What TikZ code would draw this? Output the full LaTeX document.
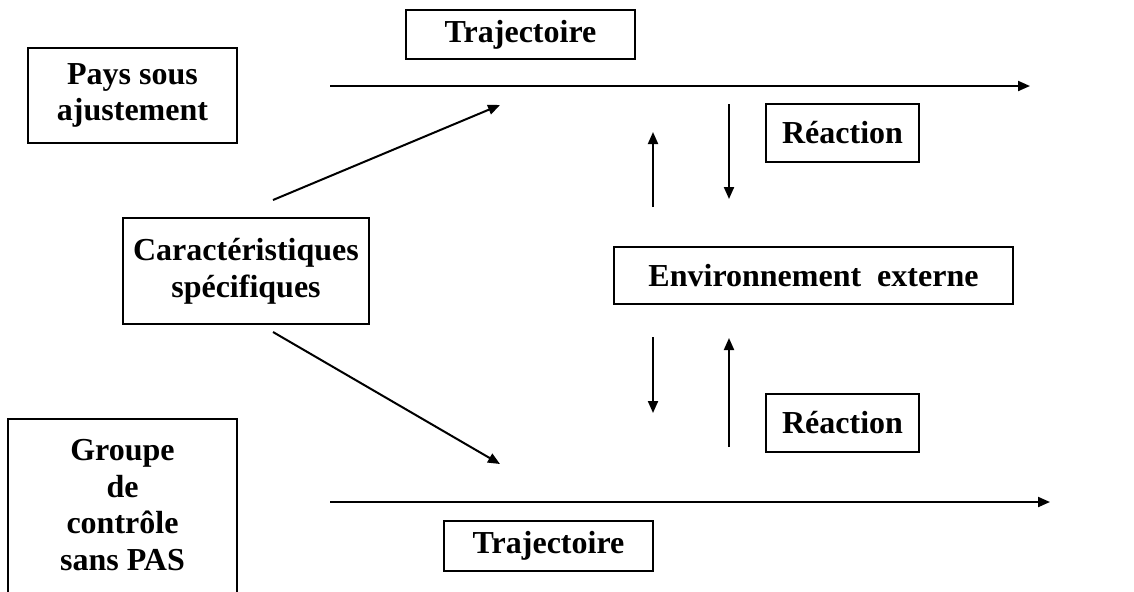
\documentclass[tikz,border=0pt]{standalone}
\usepackage{fontspec}
\setmainfont{Liberation Serif}
\usepackage{tikz}
\usetikzlibrary{positioning,arrows.meta}

\begin{document}
\begin{tikzpicture}[x=0.5pt, y=-0.5pt, line width=1pt, >={Triangle[length=6pt,width=5pt]}]
  \tikzset{
    box/.style={draw, rectangle, align=center, inner sep=0pt, text centered,
      font=\fontsize{16}{18.3}\selectfont\bfseries},
    flow/.style={->}
  }
  \clip (0,0) rectangle (1134,591);

  \node[box, minimum width=114.5pt, minimum height=24.5pt] (traj) at (520.5,34.5) {Trajectoire};
  \node[box, minimum width=104.5pt, minimum height=47.5pt] (pays) at (132.5,95.5) {Pays sous\\ajustement};
  \node[box, minimum width=76.5pt, minimum height=29pt] (reacup) at (842.5,133) {Réaction};
  \node[box, minimum width=123pt, minimum height=53pt] (carac) at (246,271) {Caractéristiques\\spécifiques};
  \node[box, minimum width=199.5pt, minimum height=28.5pt] (env) at (813.5,275.5) {Environnement\ \ externe};
  \node[box, minimum width=76.5pt, minimum height=29pt] (reacdown) at (842.5,423) {Réaction};
  \node[box, minimum width=104.5pt, minimum height=25pt] (trajbis) at (548.5,546) {Trajectoire};
  \node[box, anchor=north, minimum width=114.5pt, inner ysep=8pt] (groupe) at (122.5,418)
    {\begin{tabular}{c}Groupe\\de\\contrôle\\sans PAS\\[40pt]\end{tabular}};

  \coordinate (traja) at (330,86);
  \coordinate (trajb) at (1030,86);
  \coordinate (diaga) at (273,200);
  \coordinate (diagb) at (500,105);
  \coordinate (diagc) at (273,332);
  \coordinate (diagd) at (500,464);
  \coordinate (trajc) at (330,502);
  \coordinate (trajd) at (1050,502);
  \coordinate (upa) at (653,207);
  \coordinate (upb) at (653,132);
  \coordinate (downa) at (729,104);
  \coordinate (downb) at (729,199);
  \coordinate (downc) at (653,337);
  \coordinate (downd) at (653,413);
  \coordinate (upc) at (729,447);
  \coordinate (upd) at (729,338);

  \draw[flow] (traja) -- (trajb);
  \draw[flow] (diaga) -- (diagb);
  \draw[flow] (diagc) -- (diagd);
  \draw[flow] (trajc) -- (trajd);
  \draw[flow] (upa) -- (upb);
  \draw[flow] (downa) -- (downb);
  \draw[flow] (downc) -- (downd);
  \draw[flow] (upc) -- (upd);
\end{tikzpicture}
\end{document}
